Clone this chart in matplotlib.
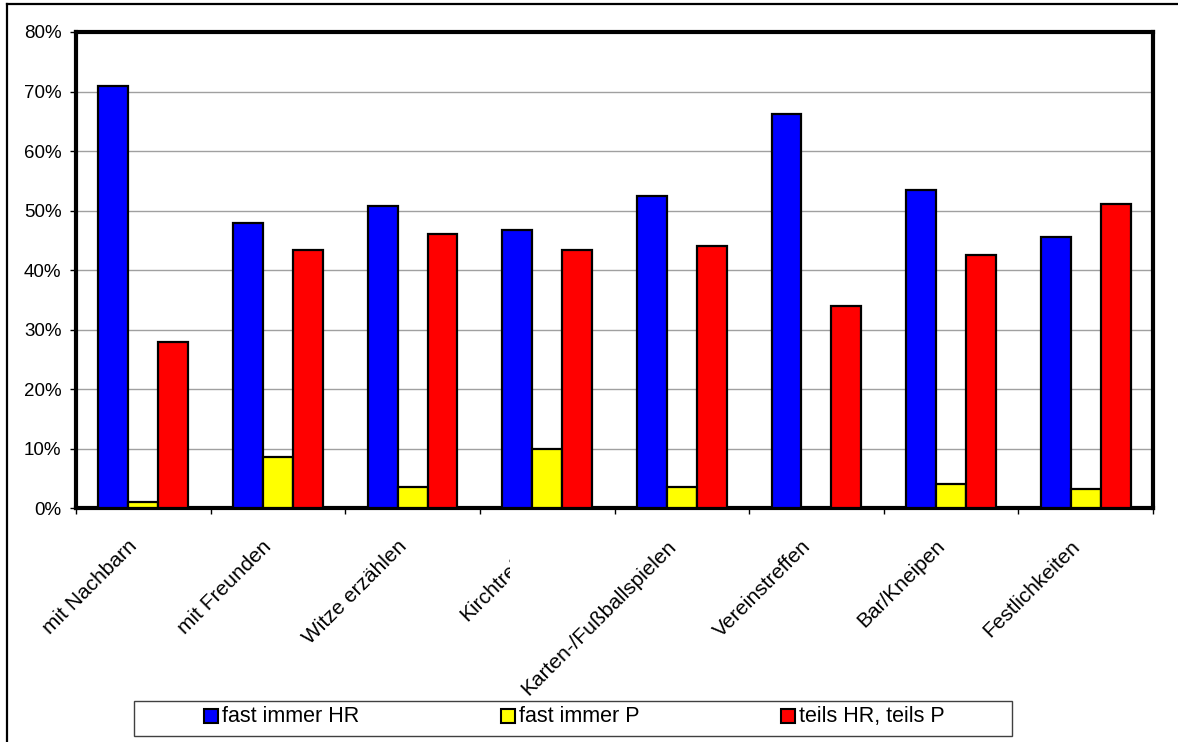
import matplotlib
matplotlib.use("Agg")
import matplotlib.pyplot as plt
import numpy as np
from matplotlib.patches import Rectangle
from matplotlib.lines import Line2D
from matplotlib.transforms import Bbox, TransformedBbox, ScaledTranslation, blended_transform_factory

plt.rcParams['font.family'] = ['Liberation Sans', 'DejaVu Sans']

categories = ["mit Nachbarn", "mit Freunden", "Witze erzählen", "Kirchtreffen",
              "Karten-/Fußballspielen", "Vereinstreffen", "Bar/Kneipen", "Festlichkeiten"]
series_names = ["fast immer HR", "fast immer P", "teils HR, teils P"]
fast_immer_hr = [71.0, 47.9, 50.7, 46.8, 52.4, 66.2, 53.5, 45.6]
fast_immer_p = [1.0, 8.7, 3.5, 10.0, 3.6, 0.0, 4.1, 3.3]
teils_hr_teils_p = [27.9, 43.4, 46.0, 43.4, 44.1, 34.0, 42.5, 51.1]
y_ticks = [0, 10, 20, 30, 40, 50, 60, 70, 80]

colors = ["#0000FF", "#FFFF00", "#FF0000"]

W, H = 1178, 742
fig = plt.figure(figsize=(W / 100, H / 100), dpi=100)
fig.patch.set_facecolor("white")

def fx(px):
    return px / W

def fy(py):
    return 1 - py / H

left, right, top, bottom = 76, 1153, 32, 508.3
ax = fig.add_axes([fx(left), fy(bottom), (right - left) / W, (bottom - top) / H])

x = np.arange(len(categories))
bw = 2 / 9
for j, (vals, col) in enumerate(zip([fast_immer_hr, fast_immer_p, teils_hr_teils_p], colors)):
    vals = np.asarray(vals)
    lws = [1.6 if v > 0 else 0 for v in vals]
    ax.bar(x + (j - 1) * bw, vals, width=bw, color=col, edgecolor="black",
           linewidth=lws, zorder=3)

ax.set_xlim(-0.5, len(categories) - 0.5)
ax.set_ylim(0, 80)
ax.set_yticks(y_ticks)
ax.set_yticklabels([f"{t}%" for t in y_ticks], fontsize=13.5)
ax.yaxis.grid(True, color="#a0a0a0", linewidth=1)
ax.set_axisbelow(True)
ax.tick_params(axis="y", direction="out", length=4.5, width=1, pad=6, colors="black")

ax.set_xticks(np.arange(-0.5, len(categories), 1.0))
ax.set_xticklabels([])
ax.tick_params(axis="x", direction="out", length=4.5, width=1)

for s in ax.spines.values():
    s.set_linewidth(3)
    s.set_color("black")

# category labels, rotated and anchored at their right end
btrans = blended_transform_factory(ax.transData, ax.transAxes)
offset = ScaledTranslation(-9 / 100, -35 / 100, fig.dpi_scale_trans)
for i, cat in enumerate(categories):
    t = ax.text(i, 0, cat, transform=btrans + offset, rotation=45,
                rotation_mode="anchor", ha="right", va="center", fontsize=15,
                clip_on=False)
    if cat == "Kirchtreffen":
        clip = TransformedBbox(Bbox.from_extents(0, 0, fx(510), 1), fig.transFigure)
        t.set_clip_box(clip)
        t.set_clip_on(True)

# outer frame (top and left edges)
fig.add_artist(Line2D([fx(6.5), 1], [fy(3.5), fy(3.5)], transform=fig.transFigure,
                      color="black", linewidth=1.6))
fig.add_artist(Line2D([fx(6.5), fx(6.5)], [fy(3.5), 0], transform=fig.transFigure,
                      color="black", linewidth=1.6))

# legend box
fig.add_artist(Rectangle((fx(134), fy(736)), fx(1012) - fx(134), fy(701) - fy(736),
                         transform=fig.transFigure, facecolor="white",
                         edgecolor="#404040", linewidth=1))
square_x = [204, 501, 781]
for name, col, sx in zip(series_names, colors, square_x):
    fig.add_artist(Rectangle((fx(sx), fy(723)), 14 / W, 14 / H, transform=fig.transFigure,
                             facecolor=col, edgecolor="black", linewidth=1.5))
    fig.text(fx(sx + 18), fy(716.5), name, ha="left", va="center", fontsize=15.5)

fig.savefig("out.png", dpi=100, facecolor="white")
